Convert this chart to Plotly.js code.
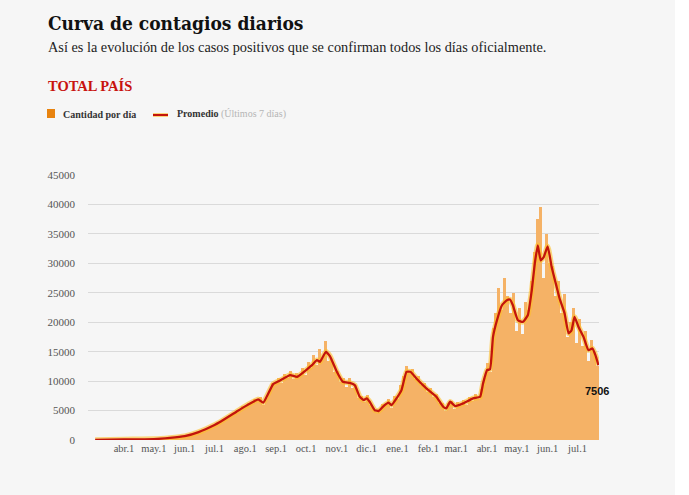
<!DOCTYPE html>
<html>
<head>
<meta charset="utf-8">
<script src="https://cdn.plot.ly/plotly-3.0.1.min.js"></script>
<style>
  html, body { margin: 0; padding: 0; background: #ffffff; }
  #chart { width: 675px; height: 495px; }
</style>
</head>
<body>
<div id="chart"></div>
<script>
// ---- Data ----
// 7-day average ("Promedio") points
const avgDates = [
  '2020-03-03','2020-04-01','2020-05-01','2020-05-17','2020-06-01','2020-06-15','2020-07-01','2020-07-06',
  '2020-07-23','2020-07-30','2020-08-09','2020-08-14','2020-08-19','2020-08-29','2020-09-05','2020-09-15',
  '2020-09-22','2020-10-02','2020-10-07','2020-10-12','2020-10-15','2020-10-21','2020-10-25','2020-11-01',
  '2020-11-07','2020-11-14','2020-11-19','2020-11-24','2020-11-28','2020-12-01','2020-12-04','2020-12-09',
  '2020-12-13','2020-12-18','2020-12-23','2020-12-26','2020-12-31','2021-01-05','2021-01-10','2021-01-14',
  '2021-01-20','2021-01-30','2021-02-09','2021-02-16','2021-02-19','2021-02-23','2021-02-28','2021-03-08',
  '2021-03-18','2021-03-25','2021-03-28','2021-04-01','2021-04-04','2021-04-07','2021-04-11','2021-04-16',
  '2021-04-21','2021-04-24','2021-04-27','2021-05-02','2021-05-07','2021-05-12','2021-05-16','2021-05-19',
  '2021-05-22','2021-05-25','2021-05-28','2021-06-01','2021-06-05','2021-06-10','2021-06-13','2021-06-18',
  '2021-06-22','2021-06-25','2021-06-28','2021-07-02','2021-07-07','2021-07-12','2021-07-16','2021-07-19',
  '2021-07-22'
];
const avgValues = [
  0, 100, 150, 350, 650, 1350, 2550, 3000,
  4800, 5540, 6500, 6900, 6330, 9500, 10100, 11020,
  10730, 12000, 12710, 13560, 13270, 14970, 14240, 11580,
  9880, 9700, 9320, 7340, 6780, 7070, 6500, 5085,
  4920, 5760, 6330, 5930, 7070, 8475, 11580, 11580,
  10450, 8760, 7340, 5650, 5370, 6500, 5760, 6220,
  7070, 7340, 9610, 11870, 12000, 17510, 20340, 22880,
  23730, 23850, 22880, 20340, 20050, 21190, 25430, 29950,
  33050, 30510, 31070, 32880, 29380, 25990, 24020, 21470,
  18090, 18650, 20900, 19200, 17510, 15260, 15540, 14410,
  12710
];

// Daily cases ("Cantidad por día"), read in 3-day groups starting 2020-03-03
const barStartDate = '2020-03-03';
const barGroupDays = 3;
const barValues = [
  10,15,40,60,80,90,100,90,100,110,
  100,110,90,120,110,130,120,150,130,160,
  170,200,220,260,300,380,420,480,560,620,
  700,800,900,1050,1300,1450,1700,1900,2200,2400,
  2700,2900,3200,3500,3700,4200,4500,4900,5200,5700,
  5600,6300,6400,7000,6600,7300,6000,7200,8400,9600,
  9800,10600,9700,11200,10500,11800,10300,11300,11000,12200,
  11000,13200,12300,14400,12800,15500,14000,16800,13500,13600,
  11500,11800,9800,10600,9000,10500,8800,9400,7200,7400,
  6400,7700,6000,5500,4700,5300,6100,6000,6900,5400,
  7400,7000,9300,10800,12600,11600,12000,10300,10800,9300,
  9600,8200,8900,7300,7800,6200,6300,5000,6200,6700,
  5300,6400,5700,6800,6000,7300,6600,7800,6900,8600,
  10500,13000,11500,19000,21500,25800,22000,27500,24500,21500,
  25000,18500,22500,18000,23500,22000,27000,32000,37500,39500,
  27500,35000,30000,29500,24500,27000,21500,24800,17500,20000,
  22500,16500,20500,16000,18500,13500,17000,15000,12500
];
const lastDate = '2021-07-21';
const lastValue = 7506;

const tickDates = ['2020-04-01','2020-05-01','2020-06-01','2020-07-01','2020-08-01','2020-09-01','2020-10-01',
  '2020-11-01','2020-12-01','2021-01-01','2021-02-01','2021-03-01','2021-04-01','2021-05-01','2021-06-01','2021-07-01'];
const tickLabels = ['abr.1','may.1','jun.1','jul.1','ago.1','sep.1','oct.1','nov.1','dic.1','ene.1','feb.1','mar.1',
  'abr.1','may.1','jun.1','jul.1'];
const yTicks = [0,5000,10000,15000,20000,25000,30000,35000,40000,45000];

// ---- Build bar x positions (centre of each 3-day group) ----
const DAY = 86400000;
const start = Date.parse(barStartDate + 'T00:00:00Z');
const barDates = barValues.map((v, i) => {
  const d = new Date(start + (i * barGroupDays + 1) * DAY);
  return d.toISOString().slice(0, 10);
});

// ---- Layout geometry helpers (page pixels -> paper coords) ----
const L = 88, R = 76, T = 175, B = 55, W = 675, H = 495;
const PW = W - L - R, PH = H - T - B;
const px = x => (x - L) / PW;
const py = y => (H - B - y) / PH;

const serif = 'Liberation Serif, DejaVu Serif, serif';

const traces = [
  {
    type: 'bar', x: barDates, y: barValues,
    width: barGroupDays * DAY,
    marker: { color: '#f5b266', line: { width: 0 } },
    hoverinfo: 'skip', showlegend: false
  },
  {
    type: 'scatter', mode: 'lines', x: avgDates, y: avgValues,
    line: { color: 'rgba(255,190,40,0.6)', width: 5.5, shape: 'spline', smoothing: 0.4 },
    hoverinfo: 'skip', showlegend: false
  },
  {
    type: 'scatter', mode: 'lines', x: avgDates, y: avgValues,
    line: { color: '#c3150b', width: 2.3, shape: 'spline', smoothing: 0.4 },
    hoverinfo: 'skip', showlegend: false
  }
];

const layout = {
  width: W, height: H,
  margin: { l: L, r: R, t: T, b: B, pad: 0 },
  paper_bgcolor: '#f6f6f6', plot_bgcolor: '#f6f6f6',
  showlegend: false,
  bargap: 0,
  xaxis: {
    type: 'date',
    range: ['2020-02-24 19:00', '2021-07-22 14:00'],
    tickmode: 'array', tickvals: tickDates, ticktext: tickLabels,
    showgrid: false, zeroline: false, showline: false, ticks: '',
    tickfont: { family: serif, size: 10.5, color: '#555' },
    fixedrange: true
  },
  yaxis: {
    range: [0, 45000],
    tickmode: 'array', tickvals: yTicks, tickformat: 'd',
    showgrid: true, gridcolor: '#dadada', gridwidth: 1,
    zeroline: false, showline: false, ticks: '',
    ticklabelstandoff: 12,
    tickfont: { family: serif, size: 11, color: '#555' },
    fixedrange: true
  },
  shapes: [
    { type: 'rect', xref: 'paper', yref: 'paper', x0: px(47), x1: px(55), y0: py(118), y1: py(109),
      fillcolor: '#e8830f', line: { width: 0 } },
    { type: 'line', xref: 'paper', yref: 'paper', x0: px(153), x1: px(168), y0: py(115), y1: py(115),
      line: { color: 'rgba(255,190,40,0.6)', width: 4 } },
    { type: 'line', xref: 'paper', yref: 'paper', x0: px(153), x1: px(168), y0: py(115), y1: py(115),
      line: { color: '#c3150b', width: 2 } }
  ],
  annotations: [
    { xref: 'paper', yref: 'paper', x: px(46), y: py(23), xanchor: 'left', yanchor: 'middle', showarrow: false,
      text: '<b>Curva de contagios diarios</b>',
      font: { family: 'DejaVu Serif Condensed, DejaVu Serif, serif', size: 19, color: '#111' } },
    { xref: 'paper', yref: 'paper', x: px(46), y: py(47), xanchor: 'left', yanchor: 'middle', showarrow: false,
      text: 'Así es la evolución de los casos positivos que se confirman todos los días oficialmente.',
      font: { family: serif, size: 14.3, color: '#222' } },
    { xref: 'paper', yref: 'paper', x: px(46), y: py(86), xanchor: 'left', yanchor: 'middle', showarrow: false,
      text: '<b>TOTAL PAÍS</b>',
      font: { family: serif, size: 14.5, color: '#c8130f' } },
    { xref: 'paper', yref: 'paper', x: px(61), y: py(114), xanchor: 'left', yanchor: 'middle', showarrow: false,
      text: '<b>Cantidad por día</b>',
      font: { family: serif, size: 10, color: '#333' } },
    { xref: 'paper', yref: 'paper', x: px(175), y: py(114), xanchor: 'left', yanchor: 'middle', showarrow: false,
      text: '<b>Promedio</b> <span style="color:#b5b5b5">(Últimos 7 días)</span>',
      font: { family: serif, size: 10, color: '#333' } },
    { xref: 'x', yref: 'y', x: lastDate, y: lastValue, xanchor: 'center', yanchor: 'middle', yshift: 5,
      showarrow: false, text: '<b>' + lastValue + '</b>',
      font: { family: 'Liberation Sans, Arial, sans-serif', size: 11, color: '#111' } }
  ]
};

Plotly.newPlot('chart', traces, layout, { staticPlot: true, displayModeBar: false });
</script>
</body>
</html>
